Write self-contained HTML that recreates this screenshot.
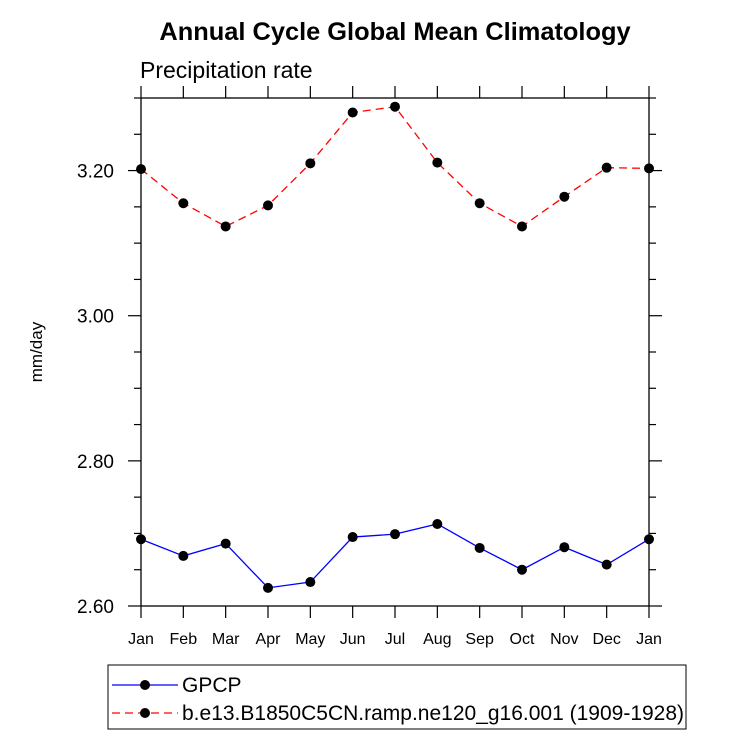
<!DOCTYPE html>
<html><head><meta charset="utf-8"><style>
body{margin:0;background:#fff;}
svg{display:block;font-family:"Liberation Sans",sans-serif;}
</style></head><body>
<svg id="chart" width="733" height="739" xmlns="http://www.w3.org/2000/svg">
<text x="395" y="40" font-size="25.4" font-weight="bold" text-anchor="middle">Annual Cycle Global Mean Climatology</text>
<text x="140" y="78" font-size="23">Precipitation rate</text>
<text transform="translate(42,352) rotate(-90)" font-size="17" text-anchor="middle">mm/day</text>
<g id="axes"></g>
<g id="series"></g>
<rect x="108" y="665" width="578" height="64" fill="none" stroke="#000" stroke-width="1"/>
<g>
<line x1="112" y1="685" x2="178" y2="685" stroke="#0000ff" stroke-width="1.2"/>
<circle cx="145" cy="685" r="5" fill="#000"/>
<text x="182" y="692" font-size="21">GPCP</text>
</g>
<g>
<line x1="112" y1="713" x2="178" y2="713" stroke="#ff0000" stroke-width="1.2" stroke-dasharray="8,5"/>
<circle cx="145" cy="713" r="5" fill="#000"/>
<text x="182" y="720" font-size="21">b.e13.B1850C5CN.ramp.ne120_g16.001 (1909-1928)</text>
</g>
</svg>
<script>
const months = ["Jan","Feb","Mar","Apr","May","Jun","Jul","Aug","Sep","Oct","Nov","Dec","Jan"];
const gpcp = [2.692,2.669,2.686,2.625,2.633,2.695,2.699,2.713,2.680,2.650,2.681,2.657,2.692];
const model = [3.202,3.155,3.123,3.152,3.210,3.280,3.288,3.211,3.155,3.123,3.164,3.204,3.203];
const yTicks = [2.60,2.80,3.00,3.20];
const yTickLabels = ["2.60","2.80","3.00","3.20"];
const yMin = 2.60, yMax = 3.30;

const L=141,R=649,T=98,B=606;
const xs = i => L + i*(R-L)/12;
const ys = v => B - (v-yMin)/(yMax-yMin)*(B-T);
const NS="http://www.w3.org/2000/svg";
const axes=document.getElementById('axes');
const ser=document.getElementById('series');
function mk(tag,attrs,parent){const e=document.createElementNS(NS,tag);for(const k in attrs)e.setAttribute(k,attrs[k]);parent.appendChild(e);return e;}
const frame=mk('rect',{x:L,y:T,width:R-L,height:B-T,fill:'none',stroke:'#000','stroke-width':1.3},axes);


months.forEach((m,i)=>{
  const x=xs(i);
  mk('line',{x1:x,y1:B,x2:x,y2:B+12,stroke:'#000','stroke-width':1.2},axes);
  mk('line',{x1:x,y1:T,x2:x,y2:T-12,stroke:'#000','stroke-width':1.2},axes);
  const t=mk('text',{x:x,y:B+38,'font-size':16,'text-anchor':'middle'},axes);
  t.textContent=m;
  
  
});
for(let v=yMin;v<=yMax+1e-9;v+=0.05){
  const y=ys(v);
  const major=Math.abs(Math.round(v*100)%20)<1e-6;
  const len=major?13:7;
  mk('line',{x1:L,y1:y,x2:L-len,y2:y,stroke:'#000','stroke-width':1.2},axes);
  mk('line',{x1:R,y1:y,x2:R+len,y2:y,stroke:'#000','stroke-width':1.2},axes);
}
yTicks.forEach((v,i)=>{
  const t=mk('text',{x:L-27,y:ys(v)+7,'font-size':19,'text-anchor':'end'},axes);
  t.textContent=yTickLabels[i];
  
  
});
function draw(data,color,dash,name){
  const pts=data.map((v,i)=>xs(i)+','+ys(v)).join(' ');
  const pl=mk('polyline',{points:pts,fill:'none',stroke:color,'stroke-width':1.3},ser);
  if(dash)pl.setAttribute('stroke-dasharray',dash);
  
  
  data.forEach((v,i)=>{
    const c=mk('circle',{cx:xs(i),cy:ys(v),r:5,fill:'#000'},ser);
    
    
  });
}
draw(gpcp,'#0000ff',null,'gpcp');
draw(model,'#ff0000','8,5','model');
</script>
</body></html>
